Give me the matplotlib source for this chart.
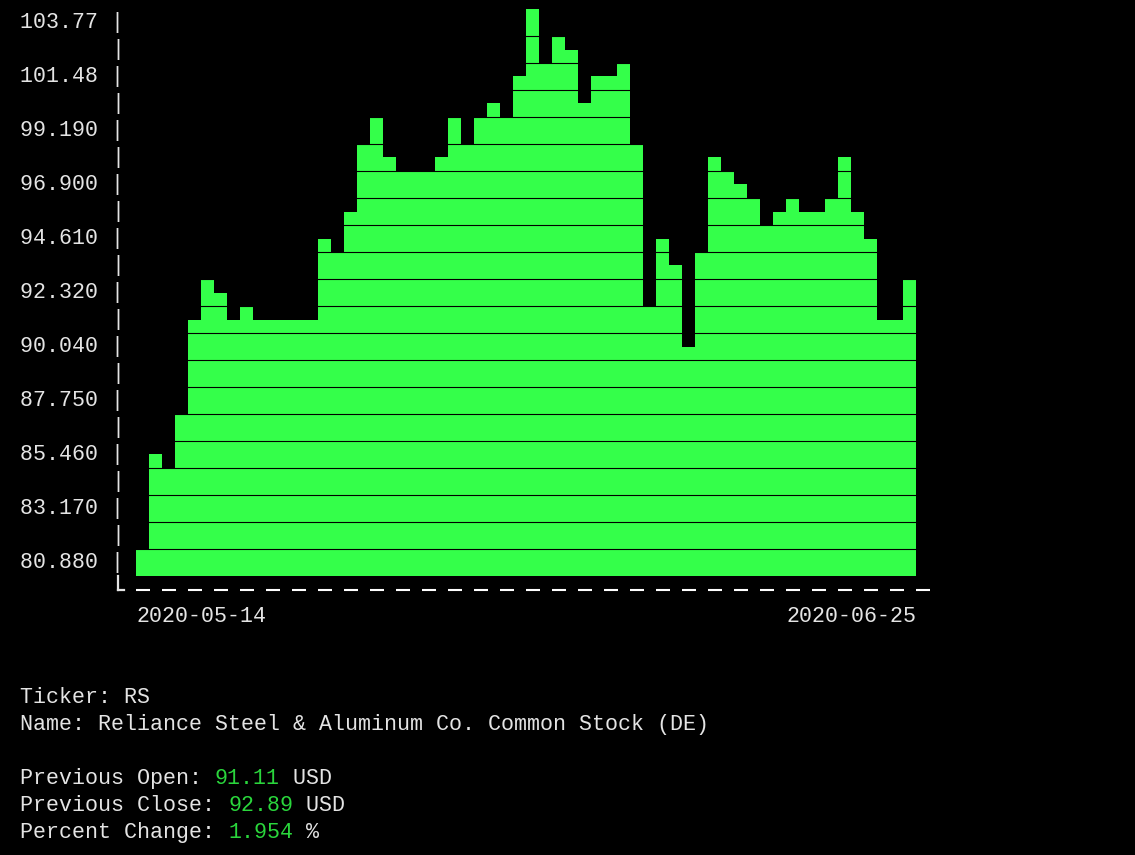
import numpy as np
import matplotlib
matplotlib.use("Agg")
import matplotlib.pyplot as plt

W, H = 1135, 855
GREEN = "#34ff4a"
TXT_GREEN = "#2ad63c"
TXT = "#e4e4e4"

# closing prices, one per terminal column
prices = [81.45, 85.46, 84.89, 87.18, 91.18, 92.90, 92.33, 91.18, 91.76, 91.18,
          91.18, 91.18, 91.18, 91.18, 94.62, 94.05, 95.77, 98.63, 99.77, 98.06,
          97.48, 97.48, 97.48, 98.06, 99.77, 98.63, 99.77, 100.34, 99.77, 101.49,
          104.35, 102.06, 103.21, 102.64, 100.34, 101.49, 101.49, 102.06, 98.63, 91.76,
          94.62, 93.48, 90.04, 94.05, 98.06, 97.48, 96.91, 96.34, 95.19, 95.77,
          96.34, 95.77, 95.77, 96.34, 98.06, 95.77, 94.62, 91.18, 91.18, 92.90]
dates = ["2020-05-14", "2020-06-25"]
tick_labels = ["80.880", "83.170", "85.460", "87.750", "90.040", "92.320",
               "94.610", "96.900", "99.190", "101.48", "103.77"]

ticker = "RS"
name = "Reliance Steel & Aluminum Co. Common Stock (DE)"
prev_open = "91.11"
prev_close = "92.89"
pct_change = "1.954"

plt.rcParams["font.family"] = ["Liberation Mono", "DejaVu Sans Mono"]
FS = 15.6
CW = 13  # character cell width in px

n_rows = 21
step = 1.145
base = 80.88 - step / 2

fig = plt.figure(figsize=(W / 100, H / 100), dpi=100, facecolor="black")
ax = fig.add_axes([136 / W, 1 - 576 / H, len(prices) * CW / W, n_rows * 27 / H])
ax.set_facecolor("black")
for s in ax.spines.values():
    s.set_visible(False)

# snap to half character cells like the terminal does
half = step / 2
heights = np.round((np.array(prices) - base) / half) * half
x = np.arange(len(prices))
ax.bar(x, heights, bottom=base, width=1.0, align="edge", color=GREEN, linewidth=0)

# gaps between character rows
for k in range(1, n_rows):
    ax.axhline(base + k * step, color="black", lw=0.8)

ax.set_xlim(0, len(prices))
ax.set_ylim(base, base + n_rows * step)

ticks = base + (np.arange(n_rows) + 0.5) * step
labels = [f"{tick_labels[k // 2]} |" if k % 2 == 0 else "|" for k in range(n_rows)]
ax.set_yticks(ticks, labels)
ax.set_xticks([])
ax.tick_params(axis="y", length=0, pad=8.6, labelsize=FS, labelcolor=TXT)
plt.setp(ax.get_yticklabels(), va="center")

# bottom axis: corner and dashes
px = step / 27
y_dash = base - 14 * px
ax.plot([-18.5 / CW, -18.5 / CW], [base, y_dash], color=TXT, lw=1.6, clip_on=False)
ax.plot([-18.5 / CW, -12 / CW], [y_dash, y_dash], color=TXT, lw=1.6, clip_on=False)
starts = np.arange(0, len(prices) + 1, 2)
ax.hlines(np.full(len(starts), y_dash), starts, starts + 14 / CW,
          colors="white", lw=1.5, clip_on=False)

ax.text(0, base - 40 * px, dates[0], ha="left", va="center", fontsize=FS, color=TXT)
ax.text(len(prices), base - 40 * px, dates[-1], ha="right", va="center", fontsize=FS, color=TXT)


def put(col, y, s, color=TXT):
    fig.text((20 + col * CW) / W, 1 - y / H, s, ha="left", va="center",
             fontsize=FS, color=color)


put(0, 697, f"Ticker: {ticker}")
put(0, 724, f"Name: {name}")
for y, label, val, unit in [(778, "Previous Open: ", prev_open, " USD"),
                            (805, "Previous Close: ", prev_close, " USD"),
                            (832, "Percent Change: ", pct_change, " %")]:
    put(0, y, label)
    put(len(label), y, val, TXT_GREEN)
    put(len(label) + len(val), y, unit)

fig.savefig("out.png", dpi=100, facecolor="black")
